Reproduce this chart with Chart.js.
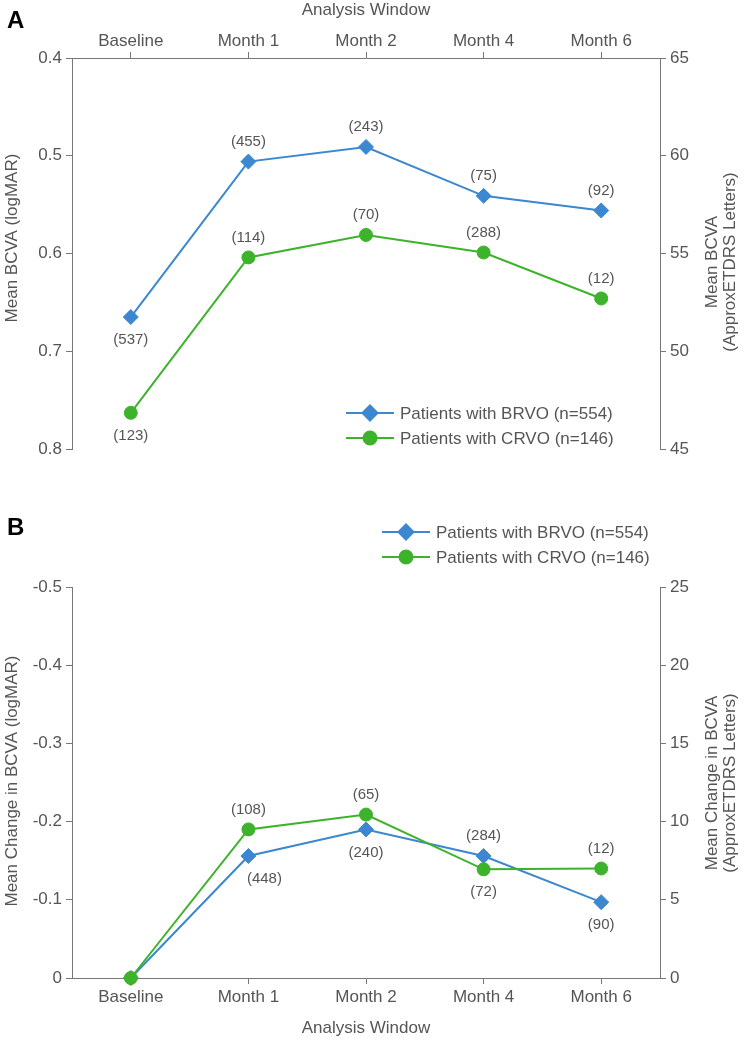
<!DOCTYPE html>
<html>
<head>
<meta charset="utf-8">
<style>
  html, body { margin: 0; padding: 0; background: #fff; }
  .panel { position: absolute; left: 0; width: 750px; }
  #wrapA { top: 0; height: 470px; }
  #wrapB { top: 470px; height: 571px; }
</style>
<script src="https://cdn.jsdelivr.net/npm/chart.js@4.4.0/dist/chart.umd.min.js"></script>
</head>
<body>
<div class="panel" id="wrapA"><canvas id="chartA" width="750" height="470"></canvas></div>
<div class="panel" id="wrapB"><canvas id="chartB" width="750" height="571"></canvas></div>
<script>
// data
const categories = ['Baseline', 'Month 1', 'Month 2', 'Month 4', 'Month 6'];

// panel A: mean BCVA (logMAR)
const brvoMean = [0.665, 0.506, 0.491, 0.541, 0.556];
const crvoMean = [0.763, 0.604, 0.581, 0.599, 0.646];
const brvoMeanN = [537, 455, 243, 75, 92];
const crvoMeanN = [123, 114, 70, 288, 12];

// panel B: mean change in BCVA (logMAR)
const brvoChange = [0, -0.156, -0.190, -0.156, -0.097];
const crvoChange = [0, -0.190, -0.209, -0.139, -0.140];
const brvoChangeN = [null, 448, 240, 284, 90];
const crvoChangeN = [null, 108, 65, 72, 12];

// tick labels
const ticksMeanLogmar = [0.4, 0.5, 0.6, 0.7, 0.8];
const ticksMeanLetters = [45, 50, 55, 60, 65];
const ticksChangeLogmar = [-0.5, -0.4, -0.3, -0.2, -0.1, 0];
const ticksChangeLetters = [0, 5, 10, 15, 20, 25];

const legendLabels = ['Patients with BRVO (n=554)', 'Patients with CRVO (n=146)'];

// where the (n) labels sit: 'a' above, 'b' below
const brvoMeanSide = ['b', 'a', 'a', 'a', 'a'];
const crvoMeanSide = ['b', 'a', 'a', 'a', 'a'];
const brvoChangeSide = ['b', 'b', 'b', 'a', 'b'];
const crvoChangeSide = ['a', 'a', 'a', 'b', 'a'];
const brvoChangeShift = [0, 16, 0, 0, 0];

const BLUE = '#3b87d0';
const GREEN = '#3db22b';
const AXIS = '#777777';
const TEXT = '#555555';
const FONT = '"Liberation Sans", Arial, sans-serif';

function fmtLog(v) {
  if (Math.abs(v) < 1e-9) return '0';
  return v.toFixed(1);
}

function setTicks(list) {
  return function(scale) {
    scale.ticks = list.map(v => ({ value: v }));
  };
}

// draws "(n)" next to each point
const countLabels = {
  id: 'countLabels',
  afterDatasetsDraw(chart) {
    const ctx = chart.ctx;
    ctx.save();
    ctx.font = '15px ' + FONT;
    ctx.fillStyle = TEXT;
    ctx.textAlign = 'center';
    ctx.textBaseline = 'middle';
    chart.data.datasets.forEach((ds, di) => {
      const meta = chart.getDatasetMeta(di);
      meta.data.forEach((pt, i) => {
        const n = ds.counts[i];
        if (n == null) return;
        const dy = ds.sides[i] === 'a' ? -20 : 23;
        const dx = ds.shift ? ds.shift[i] : 0;
        ctx.fillText('(' + n + ')', pt.x + dx, pt.y + dy);
      });
    });
    ctx.restore();
  }
};

// legend with line through marker, titles and panel letter
const decor = {
  id: 'decor',
  afterDraw(chart, args, opts) {
    const ctx = chart.ctx;
    ctx.save();
    // panel letter
    ctx.font = 'bold 24px ' + FONT;
    ctx.fillStyle = '#000';
    ctx.textAlign = 'left';
    ctx.textBaseline = 'alphabetic';
    ctx.fillText(opts.letter, 7, opts.letterY);

    // legend
    chart.data.datasets.forEach((ds, i) => {
      const y = opts.legY + i * 25;
      ctx.strokeStyle = ds.borderColor;
      ctx.lineWidth = 2;
      ctx.beginPath();
      ctx.moveTo(opts.legX, y);
      ctx.lineTo(opts.legX + 48, y);
      ctx.stroke();
      ctx.fillStyle = ds.borderColor;
      Chart.helpers.drawPoint(ctx, {
        pointStyle: ds.pointStyle, radius: ds.pointRadius, rotation: 0, borderWidth: 1
      }, opts.legX + 24, y);
      ctx.fillStyle = TEXT;
      ctx.font = '17px ' + FONT;
      ctx.textAlign = 'left';
      ctx.textBaseline = 'middle';
      ctx.fillText(ds.label, opts.legX + 54, y + 1);
    });

    // axis titles
    ctx.fillStyle = TEXT;
    ctx.font = '17px ' + FONT;
    ctx.textAlign = 'center';
    ctx.textBaseline = 'middle';
    ctx.fillText('Analysis Window', 366, opts.xTitleY);

    ctx.save();
    ctx.translate(12, opts.leftTitleY);
    ctx.rotate(-Math.PI / 2);
    ctx.fillText(opts.leftTitle, 0, 0);
    ctx.restore();

    opts.rightTitle.forEach((line, i) => {
      ctx.save();
      ctx.translate(712 + i * 18, opts.rightTitleY);
      ctx.rotate(-Math.PI / 2);
      ctx.fillText(line, 0, 0);
      ctx.restore();
    });
    ctx.restore();
  }
};

function gridOpts() {
  return { display: true, drawOnChartArea: false, drawTicks: true, tickLength: 6, color: AXIS };
}
function borderOpts() {
  return { display: true, color: AXIS, width: 1 };
}
function tickFont() {
  return { family: FONT, size: 17 };
}

function lineSet(label, values, color, style, radius, counts, sides, shift, order) {
  return {
    label: label,
    data: values,
    borderColor: color,
    backgroundColor: color,
    borderWidth: 2,
    pointStyle: style,
    pointRadius: radius,
    pointHoverRadius: radius,
    pointBorderWidth: 1,
    pointBorderColor: color,
    pointBackgroundColor: color,
    tension: 0,
    clip: false,
    order: order,
    counts: counts,
    sides: sides,
    shift: shift
  };
}

// Panel A
new Chart(document.getElementById('chartA'), {
  type: 'line',
  data: {
    labels: categories,
    datasets: [
      lineSet(legendLabels[0], brvoMean, BLUE, 'rectRot', 7.5, brvoMeanN, brvoMeanSide, null, 1),
      lineSet(legendLabels[1], crvoMean, GREEN, 'circle', 6.5, crvoMeanN, crvoMeanSide, null, 0)
    ]
  },
  options: {
    responsive: false,
    animation: false,
    layout: { padding: { top: 0, bottom: 21, left: 0, right: 0 } },
    plugins: {
      legend: { display: false },
      tooltip: { enabled: false },
      decor: {
        letter: 'A', letterY: 28,
        legX: 346, legY: 413,
        xTitleY: 10,
        leftTitle: 'Mean BCVA (logMAR)', leftTitleY: 238,
        rightTitle: ['Mean BCVA', '(ApproxETDRS Letters)'], rightTitleY: 262
      }
    },
    scales: {
      x: {
        position: 'top',
        offset: true,
        grid: gridOpts(),
        border: borderOpts(),
        ticks: { color: TEXT, font: tickFont(), padding: 0, maxRotation: 0 },
        afterFit(s) { s.height = 58; }
      },
      y: {
        position: 'left',
        reverse: true,
        min: ticksMeanLogmar[0],
        max: ticksMeanLogmar[ticksMeanLogmar.length - 1],
        grid: gridOpts(),
        border: borderOpts(),
        afterBuildTicks: setTicks(ticksMeanLogmar),
        ticks: { color: TEXT, font: tickFont(), padding: 4, callback: v => fmtLog(v) },
        afterFit(s) { s.width = 72; }
      },
      y2: {
        position: 'right',
        min: ticksMeanLetters[0],
        max: ticksMeanLetters[ticksMeanLetters.length - 1],
        grid: gridOpts(),
        border: borderOpts(),
        afterBuildTicks: setTicks(ticksMeanLetters),
        ticks: { color: TEXT, font: tickFont(), padding: 4 },
        afterFit(s) { s.width = 90; }
      }
    }
  },
  plugins: [countLabels, decor]
});

// Panel B
new Chart(document.getElementById('chartB'), {
  type: 'line',
  data: {
    labels: categories,
    datasets: [
      lineSet(legendLabels[0], brvoChange, BLUE, 'rectRot', 7.5, brvoChangeN, brvoChangeSide, brvoChangeShift, 1),
      lineSet(legendLabels[1], crvoChange, GREEN, 'circle', 6.5, crvoChangeN, crvoChangeSide, null, 0)
    ]
  },
  options: {
    responsive: false,
    animation: false,
    layout: { padding: { top: 117, bottom: 0, left: 0, right: 0 } },
    plugins: {
      legend: { display: false },
      tooltip: { enabled: false },
      decor: {
        letter: 'B', letterY: 65,
        legX: 382, legY: 62,
        xTitleY: 558,
        leftTitle: 'Mean Change in BCVA (logMAR)', leftTitleY: 311,
        rightTitle: ['Mean Change in BCVA', '(ApproxETDRS Letters)'], rightTitleY: 313
      }
    },
    scales: {
      x: {
        position: 'bottom',
        offset: true,
        grid: gridOpts(),
        border: borderOpts(),
        ticks: { color: TEXT, font: tickFont(), padding: 3, maxRotation: 0 },
        afterFit(s) { s.height = 63; }
      },
      y: {
        position: 'left',
        reverse: true,
        min: ticksChangeLogmar[0],
        max: ticksChangeLogmar[ticksChangeLogmar.length - 1],
        grid: gridOpts(),
        border: borderOpts(),
        afterBuildTicks: setTicks(ticksChangeLogmar),
        ticks: { color: TEXT, font: tickFont(), padding: 4, callback: v => fmtLog(v) },
        afterFit(s) { s.width = 72; }
      },
      y2: {
        position: 'right',
        min: ticksChangeLetters[0],
        max: ticksChangeLetters[ticksChangeLetters.length - 1],
        grid: gridOpts(),
        border: borderOpts(),
        afterBuildTicks: setTicks(ticksChangeLetters),
        ticks: { color: TEXT, font: tickFont(), padding: 4 },
        afterFit(s) { s.width = 90; }
      }
    }
  },
  plugins: [countLabels, decor]
});
</script>
</body>
</html>
